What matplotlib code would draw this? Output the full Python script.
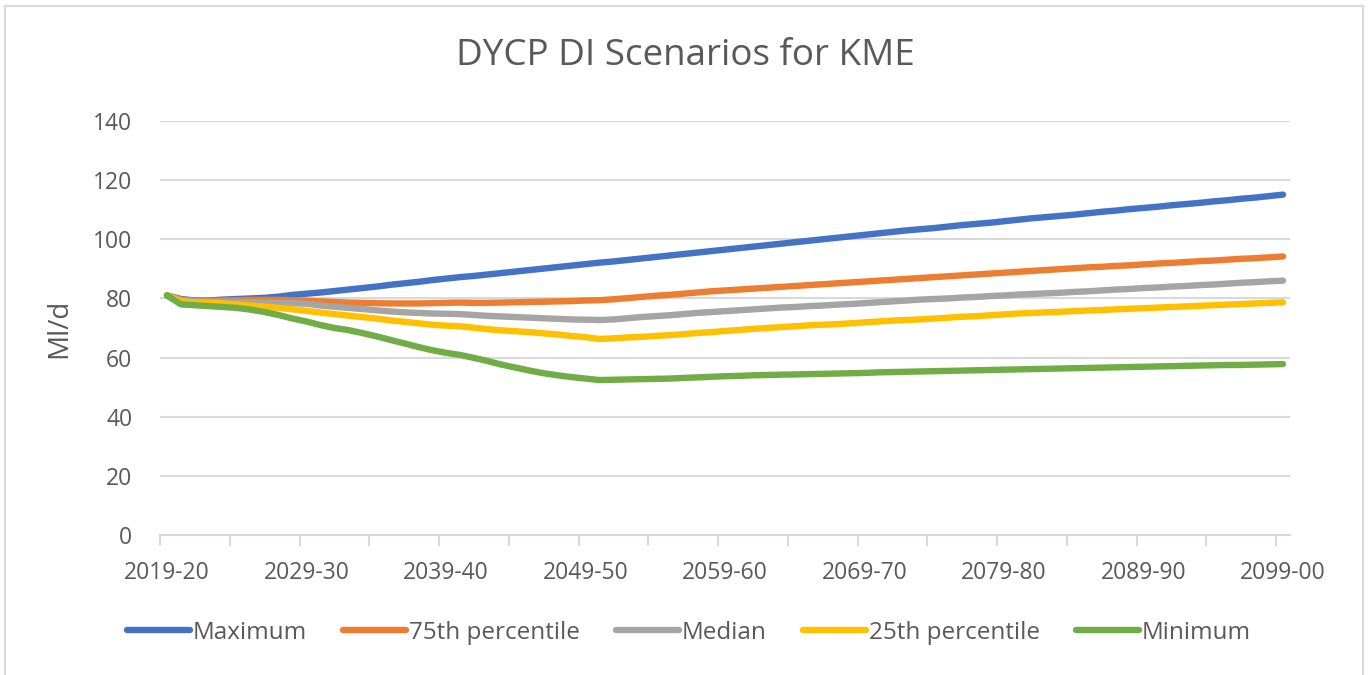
import matplotlib
matplotlib.use("Agg")
import matplotlib.pyplot as plt
from matplotlib.lines import Line2D
import numpy as np

plt.rcParams['font.family'] = ['Open Sans', 'DejaVu Sans']

# Financial years 2019-20 .. 2099-00
years = [f"{y}-{str(y + 1)[-2:]}" for y in range(2019, 2100)]

maximum = [
    81.0, 79.8, 79.3, 79.3, 79.6, 79.8, 80.0, 80.2, 80.6, 81.2,
    81.6, 82.0, 82.5, 83.0, 83.5, 84.0, 84.6, 85.1, 85.6, 86.2,
    86.7, 87.2, 87.6, 88.1, 88.6, 89.1, 89.6, 90.1, 90.6, 91.1,
    91.6, 92.1, 92.5, 93.0, 93.5, 94.0, 94.5, 95.0, 95.5, 96.0,
    96.5, 97.0, 97.5, 98.0, 98.5, 99.0, 99.5, 100.0, 100.5, 101.0,
    101.5, 102.0, 102.5, 103.0, 103.4, 103.8, 104.3, 104.8, 105.2, 105.6,
    106.1, 106.6, 107.1, 107.5, 107.9, 108.3, 108.8, 109.3, 109.7, 110.2,
    110.6, 111.0, 111.5, 111.9, 112.3, 112.8, 113.2, 113.7, 114.1, 114.6,
    115.1,
]
p75 = [
    81.0, 79.6, 79.2, 79.2, 79.3, 79.4, 79.5, 79.5, 79.5, 79.4,
    79.2, 79.0, 78.8, 78.6, 78.5, 78.4, 78.3, 78.3, 78.3, 78.4,
    78.5, 78.6, 78.5, 78.5, 78.6, 78.7, 78.8, 78.9, 79.0, 79.1,
    79.3, 79.4, 79.7, 80.1, 80.5, 80.9, 81.2, 81.6, 82.0, 82.4,
    82.7, 83.0, 83.3, 83.6, 83.9, 84.2, 84.5, 84.8, 85.1, 85.4,
    85.7, 86.0, 86.3, 86.6, 86.9, 87.2, 87.5, 87.8, 88.1, 88.4,
    88.7, 89.0, 89.3, 89.6, 89.9, 90.2, 90.5, 90.7, 91.0, 91.2,
    91.5, 91.8, 92.0, 92.3, 92.6, 92.8, 93.1, 93.4, 93.6, 93.9,
    94.2,
]
median = [
    81.0, 79.4, 79.0, 78.9, 78.9, 78.8, 78.7, 78.6, 78.5, 78.4,
    78.2, 77.6, 77.2, 76.8, 76.4, 76.0, 75.6, 75.3, 75.1, 74.9,
    74.8, 74.7, 74.4, 74.1, 73.9, 73.7, 73.5, 73.3, 73.1, 72.9,
    72.8, 72.7, 72.9, 73.3, 73.7, 74.0, 74.3, 74.7, 75.1, 75.4,
    75.7, 76.0, 76.3, 76.6, 76.9, 77.1, 77.4, 77.6, 77.9, 78.1,
    78.4, 78.7, 79.0, 79.3, 79.6, 79.8, 80.0, 80.3, 80.5, 80.8,
    81.0, 81.3, 81.5, 81.7, 81.9, 82.2, 82.4, 82.7, 83.0, 83.2,
    83.5, 83.7, 84.0, 84.2, 84.5, 84.7, 85.0, 85.3, 85.5, 85.8,
    86.0,
]
p25 = [
    81.0, 79.0, 78.6, 78.5, 78.3, 78.0, 77.6, 77.2, 76.8, 76.3,
    75.8, 75.2, 74.7, 74.2, 73.7, 73.2, 72.6, 72.1, 71.6, 71.1,
    70.8, 70.6, 70.1, 69.6, 69.2, 68.9, 68.6, 68.2, 67.8, 67.3,
    66.9, 66.3, 66.5, 66.8, 67.0, 67.3, 67.6, 67.9, 68.3, 68.6,
    69.0, 69.3, 69.7, 70.0, 70.3, 70.6, 70.9, 71.1, 71.3, 71.6,
    71.9, 72.2, 72.5, 72.7, 72.9, 73.2, 73.5, 73.8, 74.0, 74.3,
    74.6, 74.9, 75.1, 75.3, 75.5, 75.7, 75.9, 76.1, 76.3, 76.5,
    76.7, 76.9, 77.1, 77.3, 77.5, 77.7, 77.9, 78.1, 78.3, 78.5,
    78.7,
]
minimum = [
    81.0, 78.0, 77.7, 77.4, 77.1, 76.8, 76.2, 75.4, 74.4, 73.2,
    72.2, 71.0, 70.0, 69.3, 68.3, 67.2, 66.0, 64.8, 63.6, 62.5,
    61.6, 60.9, 59.9, 58.8, 57.6, 56.6, 55.6, 54.7, 54.0, 53.4,
    52.9, 52.4, 52.5, 52.6, 52.7, 52.8, 52.9, 53.1, 53.3, 53.5,
    53.7, 53.8, 54.0, 54.1, 54.2, 54.3, 54.4, 54.5, 54.6, 54.7,
    54.8, 55.0, 55.1, 55.2, 55.3, 55.4, 55.5, 55.6, 55.7, 55.8,
    55.9, 56.0, 56.1, 56.2, 56.3, 56.4, 56.5, 56.6, 56.7, 56.8,
    56.9, 57.0, 57.1, 57.2, 57.3, 57.4, 57.5, 57.5, 57.6, 57.7,
    57.8,
]

series = [
    ("Maximum", maximum, "#4472C4"),
    ("75th percentile", p75, "#ED7D31"),
    ("Median", median, "#A5A5A5"),
    ("25th percentile", p25, "#FFC000"),
    ("Minimum", minimum, "#70AD47"),
]

W, H = 1368, 675
fig = plt.figure(figsize=(W / 100, H / 100), dpi=100)
ax = fig.add_axes([160 / W, 1 - 535 / H, 1130 / W, (535 - 121) / H])

text_col = "#595959"
grid_col = "#D9D9D9"

x = np.arange(len(years))
for name, vals, col in series:
    ax.plot(x, vals, color=col, lw=4.6, solid_capstyle="round",
            solid_joinstyle="round", label=name)

ax.set_xlim(-0.5, len(years) - 0.5)
ax.set_ylim(0, 140)
ax.set_yticks(np.arange(0, 141, 20))
ax.yaxis.grid(True, color=grid_col, lw=1.5)
ax.set_axisbelow(True)

ax.set_xticks(x[::10])
ax.set_xticklabels(years[::10])
ax.set_xticks(np.arange(-0.5, len(years), 5), minor=True)
ax.tick_params(axis="x", which="major", length=0, pad=19, labelsize=16.5,
               labelcolor=text_col)
ax.tick_params(axis="x", which="minor", length=8, width=1.5, color=grid_col)
ax.tick_params(axis="y", length=0, pad=20, labelsize=16.5, labelcolor=text_col)

for s in ["top", "right", "left"]:
    ax.spines[s].set_visible(False)
ax.spines["bottom"].set_color(grid_col)
ax.spines["bottom"].set_linewidth(1.5)

ax.set_ylabel("Ml/d", fontsize=20, color=text_col, labelpad=14)

fig.text(685 / W, 1 - 56 / H, "DYCP DI Scenarios for KME", ha="center",
         va="center", fontsize=26.5, color=text_col)

handles = [Line2D([0], [0], color=c, lw=4.6, solid_capstyle="round")
           for _, _, c in series]
fig.legend(handles, [n for n, _, _ in series], loc="center",
           bbox_to_anchor=(689 / W, 1 - 633 / H), ncol=5, frameon=False,
           fontsize=17.5, labelcolor=text_col, handlelength=2.6,
           handletextpad=0.1, columnspacing=1.5)

# chart-area border
fig.add_artist(plt.Rectangle((5 / W, -0.05), (1363 - 5) / W, 1.05 - 6 / H,
                             transform=fig.transFigure, fill=False,
                             edgecolor=grid_col, lw=1.5))

fig.savefig("out.png", dpi=100, facecolor="white")
